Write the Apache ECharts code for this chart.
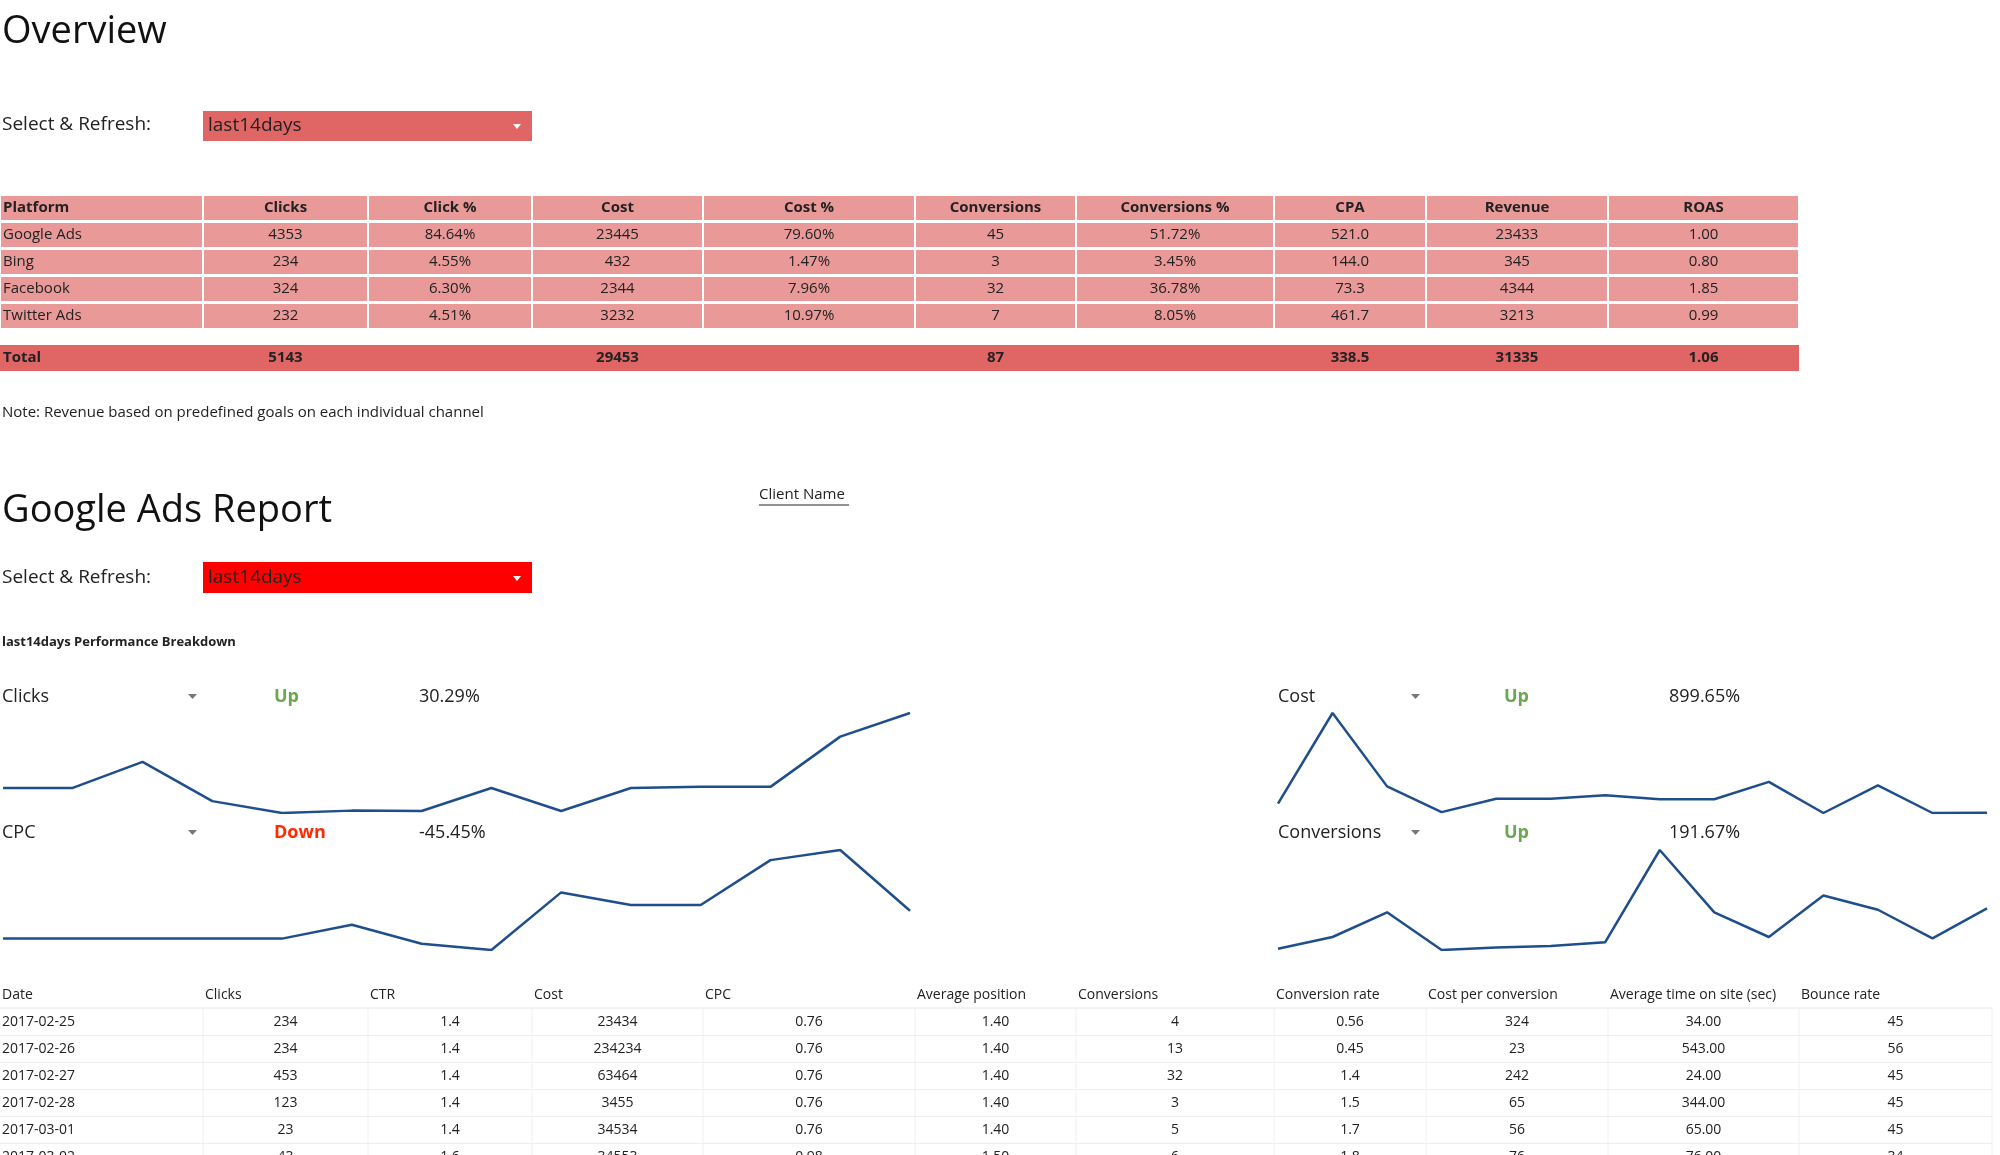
<!DOCTYPE html>
<html><head><meta charset="utf-8">
<script src="https://cdn.jsdelivr.net/npm/echarts@6/dist/echarts.min.js"></script>
<style>html,body{margin:0;padding:0;background:#fff}#c{width:2000px;height:1155px}</style>
</head><body><div id="c"></div>
<script>
const platHeader = ['Platform','Clicks','Click %','Cost','Cost %','Conversions','Conversions %','CPA','Revenue','ROAS'];
const platRows = [
  ['Google Ads','4353','84.64%','23445','79.60%','45','51.72%','521.0','23433','1.00'],
  ['Bing','234','4.55%','432','1.47%','3','3.45%','144.0','345','0.80'],
  ['Facebook','324','6.30%','2344','7.96%','32','36.78%','73.3','4344','1.85'],
  ['Twitter Ads','232','4.51%','3232','10.97%','7','8.05%','461.7','3213','0.99']
];
const platTotal = ['Total','5143','','29453','','87','','338.5','31335','1.06'];
const detHeader = ['Date','Clicks','CTR','Cost','CPC','Average position','Conversions','Conversion rate','Cost per conversion','Average time on site (sec)','Bounce rate'];
const detRows = [
  ['2017-02-25','234','1.4','23434','0.76','1.40','4','0.56','324','34.00','45'],
  ['2017-02-26','234','1.4','234234','0.76','1.40','13','0.45','23','543.00','56'],
  ['2017-02-27','453','1.4','63464','0.76','1.40','32','1.4','242','24.00','45'],
  ['2017-02-28','123','1.4','3455','0.76','1.40','3','1.5','65','344.00','45'],
  ['2017-03-01','23','1.4','34534','0.76','1.40','5','1.7','56','65.00','45'],
  ['2017-03-02','43','1.6','34553','0.98','1.50','6','1.8','76','76.00','34']
];
const days = ['1','2','3','4','5','6','7','8','9','10','11','12','13','14'];
const clicksSeries = [234,234,453,123,23,43,40,234,40,234,243,243,666,865];
const costSeries = [23434,234234,63464,3455,34534,34553,43000,33500,33500,74000,1500,66000,1500,2200];
const cpcSeries = [0.76,0.76,0.76,0.76,0.76,0.98,0.68,0.58,1.49,1.29,1.29,2.0,2.16,1.2];
const convSeries = [4,13,32,3,5,6,9,80,32,13,45,34,12,35];
const kpis = [
  {name:'Clicks',dir:'Up',pct:'30.29%'},
  {name:'CPC',dir:'Down',pct:'-45.45%'},
  {name:'Cost',dir:'Up',pct:'899.65%'},
  {name:'Conversions',dir:'Up',pct:'191.67%'}
];

const F = '"Open Sans", sans-serif';
const g = [];
function txt(x,y,s,o){ g.push({type:'text',x:x,y:y,style:Object.assign({text:s,font:'16px '+F,fill:'#222',textVerticalAlign:'middle'},o||{})}); }
function rect(x,y,w,h,fill,o){ g.push({type:'rect',shape:{x:x,y:y,width:w,height:h},style:Object.assign({fill:fill},o||{})}); }

// Titles
txt(2,32,'Overview',{font:'38px '+F,fill:'#111'});
txt(2,125,'Select & Refresh:',{font:'19px '+F});
rect(203,111,329,30,'#e06666');
txt(208,126,'last14days',{font:'19px '+F,fill:'#222'});
g.push({type:'polygon',shape:{points:[[513,124],[521,124],[517,129]]},style:{fill:'#fff'}});

// Overview table
const c1 = [0,203,368,532,703,915,1076,1274,1426,1608,1799];
function rowCells(vals,y,h,fill,bold){
  for(let i=0;i<vals.length;i++){
    rect(c1[i]+1,y,c1[i+1]-c1[i]-2,h,fill);
    const cx = i===0 ? c1[i]+3 : (c1[i]+c1[i+1])/2;
    txt(cx,y+h/2,vals[i],{font:(bold?'bold ':'')+'15px '+F,fill:'#222',textAlign:i===0?'left':'center'});
  }
}
rowCells(platHeader,196,24,'#ea9999',true);
platRows.forEach((r,k)=>rowCells(r,223+k*27,24,'#ea9999',false));
rect(0,345,1799,26,'#e06666');
platTotal.forEach((v,i)=>{const cx=i===0?3:(c1[i]+c1[i+1])/2; txt(cx,358,v,{font:'bold 15px '+F,textAlign:i===0?'left':'center'});});
txt(2,413,'Note: Revenue based on predefined goals on each individual channel',{font:'15px '+F});

// Google Ads Report
txt(2,511,'Google Ads Report',{font:'38px '+F,fill:'#111'});
txt(759,495,'Client Name',{font:'15px '+F});
g.push({type:'line',shape:{x1:759,y1:505,x2:849,y2:505},style:{stroke:'#222',lineWidth:1}});
txt(2,578,'Select & Refresh:',{font:'19px '+F});
rect(203,562,329,31,'#ff0000');
txt(208,578,'last14days',{font:'19px '+F,fill:'#222'});
g.push({type:'polygon',shape:{points:[[513,576],[521,576],[517,581]]},style:{fill:'#fff'}});
txt(2,642,'last14days Performance Breakdown',{font:'bold 13px '+F});

const kpos = [[0,697],[0,833],[1278,697],[1278,833]];
kpis.forEach((k,i)=>{
  const [x,y]=kpos[i];
  const off = i<2 ? [2,188,274,419] : [0,133,226,391];
  txt(x+off[0],y,k.name,{font:'18px '+F});
  g.push({type:'polygon',shape:{points:[[x+off[1],y-3],[x+off[1]+9,y-3],[x+off[1]+4.5,y+2]]},style:{fill:'#777'}});
  txt(x+off[2],y,k.dir,{font:'bold 18px '+F,fill:k.dir==='Up'?'#6aa84f':'#ff2a00'});
  txt(x+off[3],y,k.pct,{font:'18px '+F});
});

// Detail table
const c2 = [0,203,368,532,703,915,1076,1274,1426,1608,1799,1992];
txt(2,995,'',{});
detHeader.forEach((h,i)=>txt(c2[i]+2,995,h,{font:'14px '+F}));
g.push({type:'line',shape:{x1:0,y1:1008,x2:1992,y2:1008},style:{stroke:'#e6e6e6',lineWidth:1}});
detRows.forEach((r,k)=>{
  const y=1022+k*27;
  r.forEach((v,i)=>txt(i===0?2:(c2[i]+c2[i+1])/2,y,v,{font:'14px '+F,textAlign:i===0?'left':'center'}));
  g.push({type:'line',shape:{x1:0,y1:y+13.5,x2:1992,y2:y+13.5},style:{stroke:'#ededed',lineWidth:1}});
});
for(let i=1;i<c2.length;i++) g.push({type:'line',shape:{x1:c2[i],y1:1008,x2:c2[i],y2:1155},style:{stroke:'#f0f0f0',lineWidth:1}});

const grids = [
  {left:3,width:907,top:713,height:100},
  {left:3,width:907,top:850,height:100},
  {left:1278,width:709,top:713,height:100},
  {left:1278,width:709,top:850,height:100}
];
const datas=[clicksSeries,cpcSeries,costSeries,convSeries];
const chart = echarts.init(document.getElementById('c'));
chart.setOption({
  animation:false,
  grid:grids,
  xAxis:grids.map((_,i)=>({type:'category',gridIndex:i,data:days,boundaryGap:false,show:false})),
  yAxis:grids.map((_,i)=>({type:'value',gridIndex:i,min:'dataMin',max:'dataMax',show:false,scale:true})),
  series:datas.map((d,i)=>({type:'line',xAxisIndex:i,yAxisIndex:i,data:d,symbol:'none',lineStyle:{color:'#1f4e8c',width:2.5}})),
  graphic:g
});
</script></body></html>
